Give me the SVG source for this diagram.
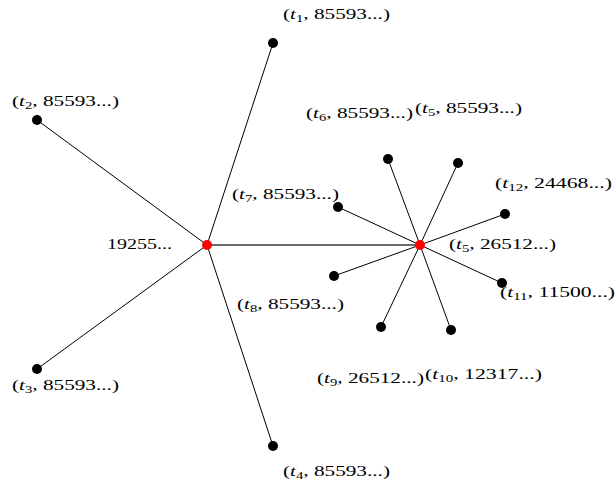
<svg xmlns="http://www.w3.org/2000/svg" width="616" height="484" viewBox="0 0 616 484">
<style>
  .e { stroke: #000; stroke-width: 1; fill: none; }
  .g { stroke: #6a6a6a; stroke-width: 1.8; fill: none; }
  .n { fill: #000; }
  .h { fill: #ff0000; }
  text { font-family: "Liberation Serif", "DejaVu Serif", serif; font-size: 14.5px; fill: #000; }
  .i { font-style: italic; }
  .s { font-size: 10px; }
</style>
<rect width="616" height="484" fill="#fff"/>
<g id="connectors">
  <line class="e" x1="207" y1="245" x2="273" y2="43"/>
  <line class="e" x1="207" y1="245" x2="37" y2="120"/>
  <line class="e" x1="207" y1="245" x2="37" y2="369"/>
  <line class="e" x1="207" y1="245" x2="273" y2="446"/>
  <line class="g" x1="207" y1="245" x2="420" y2="245"/>
  <line class="e" x1="420" y1="245" x2="388" y2="159"/>
  <line class="e" x1="420" y1="245" x2="458" y2="163"/>
  <line class="e" x1="420" y1="245" x2="338" y2="207"/>
  <line class="e" x1="420" y1="245" x2="505" y2="214"/>
  <line class="e" x1="420" y1="245" x2="334" y2="276"/>
  <line class="e" x1="420" y1="245" x2="502" y2="283"/>
  <line class="e" x1="420" y1="245" x2="381" y2="327"/>
  <line class="e" x1="420" y1="245" x2="451" y2="330"/>
</g>
<g id="hub1">
  <circle class="h" cx="207" cy="245" r="5"/>
  <text x="107" y="249" textLength="65" lengthAdjust="spacingAndGlyphs">19255...</text>
</g>
<g id="hub2">
  <circle class="h" cx="420" cy="245" r="5"/>
  <text x="449" y="249" textLength="107" lengthAdjust="spacingAndGlyphs">(<tspan class="i">t</tspan><tspan class="s" dy="3">5</tspan><tspan dy="-3">, 26512...)</tspan></text>
</g>
<g id="n1">
  <circle class="n" cx="273" cy="43" r="5"/>
  <text x="283" y="19" textLength="107" lengthAdjust="spacingAndGlyphs">(<tspan class="i">t</tspan><tspan class="s" dy="3">1</tspan><tspan dy="-3">, 85593...)</tspan></text>
</g>
<g id="n2">
  <circle class="n" cx="37" cy="120" r="5"/>
  <text x="12" y="106" textLength="107" lengthAdjust="spacingAndGlyphs">(<tspan class="i">t</tspan><tspan class="s" dy="3">2</tspan><tspan dy="-3">, 85593...)</tspan></text>
</g>
<g id="n3">
  <circle class="n" cx="37" cy="369" r="5"/>
  <text x="12" y="390" textLength="107" lengthAdjust="spacingAndGlyphs">(<tspan class="i">t</tspan><tspan class="s" dy="3">3</tspan><tspan dy="-3">, 85593...)</tspan></text>
</g>
<g id="n4">
  <circle class="n" cx="273" cy="446" r="5"/>
  <text x="283" y="476" textLength="107" lengthAdjust="spacingAndGlyphs">(<tspan class="i">t</tspan><tspan class="s" dy="3">4</tspan><tspan dy="-3">, 85593...)</tspan></text>
</g>
<g id="n6">
  <circle class="n" cx="388" cy="159" r="5"/>
  <text x="306" y="118" textLength="107" lengthAdjust="spacingAndGlyphs">(<tspan class="i">t</tspan><tspan class="s" dy="3">6</tspan><tspan dy="-3">, 85593...)</tspan></text>
</g>
<g id="n5">
  <circle class="n" cx="458" cy="163" r="5"/>
  <text x="415" y="113" textLength="107" lengthAdjust="spacingAndGlyphs">(<tspan class="i">t</tspan><tspan class="s" dy="3">5</tspan><tspan dy="-3">, 85593...)</tspan></text>
</g>
<g id="n7">
  <circle class="n" cx="338" cy="207" r="5"/>
  <text x="232" y="199" textLength="107" lengthAdjust="spacingAndGlyphs">(<tspan class="i">t</tspan><tspan class="s" dy="3">7</tspan><tspan dy="-3">, 85593...)</tspan></text>
</g>
<g id="n12">
  <circle class="n" cx="505" cy="214" r="5"/>
  <text x="495" y="188" textLength="117" lengthAdjust="spacingAndGlyphs">(<tspan class="i">t</tspan><tspan class="s" dy="3">12</tspan><tspan dy="-3">, 24468...)</tspan></text>
</g>
<g id="n8">
  <circle class="n" cx="334" cy="276" r="5"/>
  <text x="237" y="309" textLength="107" lengthAdjust="spacingAndGlyphs">(<tspan class="i">t</tspan><tspan class="s" dy="3">8</tspan><tspan dy="-3">, 85593...)</tspan></text>
</g>
<g id="n11">
  <circle class="n" cx="502" cy="283" r="5"/>
  <text x="500" y="297" textLength="115" lengthAdjust="spacingAndGlyphs">(<tspan class="i">t</tspan><tspan class="s" dy="3">11</tspan><tspan dy="-3">, 11500...)</tspan></text>
</g>
<g id="n9">
  <circle class="n" cx="381" cy="327" r="5"/>
  <text x="317" y="383" textLength="107" lengthAdjust="spacingAndGlyphs">(<tspan class="i">t</tspan><tspan class="s" dy="3">9</tspan><tspan dy="-3">, 26512...)</tspan></text>
</g>
<g id="n10">
  <circle class="n" cx="451" cy="330" r="5"/>
  <text x="425" y="379" textLength="117" lengthAdjust="spacingAndGlyphs">(<tspan class="i">t</tspan><tspan class="s" dy="3">10</tspan><tspan dy="-3">, 12317...)</tspan></text>
</g>
</svg>
